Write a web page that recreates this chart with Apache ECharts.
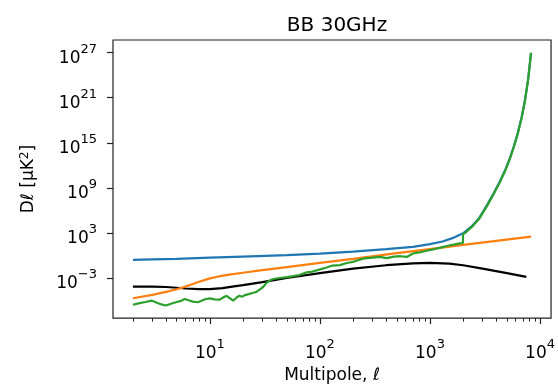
<!DOCTYPE html>
<html>
<head>
<meta charset="utf-8">
<script src="https://cdn.jsdelivr.net/npm/echarts@6/dist/echarts.min.js"></script>
<style>html,body{margin:0;padding:0;background:#fff}#c{width:558px;height:389px}</style>
</head>
<body>
<div id="c"></div>
<script>
// Multipole values (ell) and D_ell [muK^2]
const ellBlue = [2,3,5,10,20,50,100,200,400,700,1000,1300,1600,2000,2400,2800,3300,3800,4300,4800,5300,5800,6300,6800,7300,7800,8280];
const dlBlue = [2.5e-1,3.0e-1,3.5e-1,5.0e-1,7.1e-1,1.1,1.7,3.2,7.1,1.4e1,3.2e1,7.1e1,2.0e2,8.9e2,7.9e3,1.0e5,5.0e6,2.0e8,6.3e9,2.0e11,7.9e12,4.0e14,2.5e16,2.5e18,5.0e20,3.2e23,8.9e26];

const ellBlack = [2,3,4,5,6,8,10,13,16,20,30,50,100,200,400,700,1000,1500,2000,3000,5000,7500];
const dlBlack = [7.1e-5,7.1e-5,6.3e-5,5.0e-5,4.0e-5,3.2e-5,3.2e-5,4.5e-5,7.1e-5,1.1e-4,2.8e-4,1.0e-3,4.5e-3,1.8e-2,5.0e-2,8.9e-2,1.0e-1,8.3e-2,5.0e-2,1.8e-2,4.5e-3,1.4e-3];

const ellOrange = [2,3,4,5,6,7,8,10,12,15,20,30,50,100,200,500,1000,2000,4000,8280];
const dlOrange = [2.0e-6,5.6e-6,1.4e-5,3.2e-5,7.1e-5,1.6e-4,3.2e-4,8.9e-4,1.6e-3,2.8e-3,5.0e-3,1.1e-2,2.8e-2,1.0e-1,3.5e-1,2.0,7.1,2.5e1,8.9e1,3.2e2];

const ellGreen = [2.0,2.3,2.6,2.95,3.3,3.7,4.0,4.5,5.0,5.5,5.9,6.5,7.0,7.8,8.5,9.2,10,11,12.3,13.2,14.2,15.2,16.3,17.5,18.5,19.6,20.8,22.5,24.8,26.5,28.5,30.5,32.7,35,37.7,43,49.8,57,65,75.7,85,95,115,130,152,175,200,225,247,300,350,404,470,540,615,700,800,933,1100,1250,1420,1636,1870,1990,2000,2100,2400,2800,3300,3800,4300,4800,5300,5800,6300,6800,7300,7800,8280];
const dlGreen = [2.7e-7,4.5e-7,6.3e-7,9.8e-7,5.0e-7,2.8e-7,2.2e-7,4.0e-7,6.3e-7,8.9e-7,1.6e-6,1.0e-6,7.1e-7,5.9e-7,1.0e-6,1.6e-6,1.9e-6,1.4e-6,1.3e-6,2.5e-6,4.3e-6,2.0e-6,9.8e-7,2.5e-6,4.3e-6,3.2e-6,5.2e-6,7.1e-6,1.1e-5,1.4e-5,3.1e-5,6.3e-5,2.2e-4,4.5e-4,7.4e-4,1.0e-3,1.3e-3,1.8e-3,2.5e-3,5.6e-3,7.1e-3,1.1e-2,2.5e-2,4.5e-2,5.2e-2,1.0e-1,1.4e-1,2.5e-1,3.8e-1,5.0e-1,6.3e-1,4.5e-1,7.1e-1,7.9e-1,6.3e-1,1.8,2.5,4.2,7.1,1.1e1,1.8e1,2.7e1,4.0e1,4.2e1,7.1e2,1.1e3,6.3e3,7.9e4,4.0e6,1.6e8,5.0e9,1.6e11,6.3e12,3.2e14,2.0e16,2.0e18,4.0e20,2.5e23,1.0e27];

// tick labels (powers of ten)
const xTickExps = [1,2,3,4];
const yTickExps = [-3,3,9,15,21,27];
const titleText = 'BB 30GHz';

const FONT = 'DejaVu Sans';
const toPts = (xs, ys) => xs.map((x, i) => [Math.log10(x), Math.log10(ys[i])]);
const xMinor = [];
for (let n = 0; n <= 3; n++) for (let k = 2; k <= 9; k++) xMinor.push(Math.log10(k * Math.pow(10, n)));
const powLabel = v => '{b|10}{s|' + String(v).replace('-', '\u2212') + '}';
const rich = {
  b: {fontFamily: FONT, fontSize: 17, color: '#000', verticalAlign: 'bottom', lineHeight: 24},
  s: {fontFamily: FONT, fontSize: 13, color: '#000', verticalAlign: 'top', lineHeight: 24}
};

const chart = echarts.init(document.getElementById('c'), null, {renderer: 'canvas'});
const lineSeries = (name, xs, ys, color) => ({
  name, type: 'line', data: toPts(xs, ys), showSymbol: false, symbol: 'none',
  lineStyle: {color, width: 2.2}, itemStyle: {color}, animation: false, silent: true,
  xAxisIndex: 0, yAxisIndex: 0
});

chart.setOption({
  animation: false,
  title: {
    text: titleText, left: 332, top: 11, textAlign: 'center',
    textStyle: {fontFamily: FONT, fontSize: 20, fontWeight: 'normal', color: '#000'}
  },
  grid: {left: 113, right: 6, top: 40, bottom: 63, show: true, borderColor: '#222', borderWidth: 1.2, backgroundColor: 'transparent'},
  xAxis: [{
    type: 'value', min: 0.12, max: 4.1, position: 'bottom',
    axisLine: {show: false, onZero: false}, splitLine: {show: false},
    axisTick: {show: true, length: 6, customValues: xTickExps, lineStyle: {color: '#222', width: 1.2}},
    axisLabel: {customValues: xTickExps, margin: 20, formatter: powLabel, rich},
    name: 'Multipole, \u2113', nameLocation: 'middle', nameGap: 41,
    nameTextStyle: {fontFamily: FONT, fontSize: 17, color: '#000'}
  }, {
    type: 'value', min: 0.12, max: 4.1, position: 'bottom', gridIndex: 0,
    axisLine: {show: false, onZero: false}, splitLine: {show: false},
    axisTick: {show: true, length: 3.5, customValues: xMinor, lineStyle: {color: '#222', width: 1}},
    axisLabel: {show: false}
  }],
  yAxis: {
    type: 'value', min: -8.34, max: 28.68,
    axisLine: {show: false, onZero: false}, splitLine: {show: false},
    axisTick: {show: true, length: 6, customValues: yTickExps, lineStyle: {color: '#222', width: 1.2}},
    axisLabel: {customValues: yTickExps, margin: 16, formatter: powLabel, rich, padding: [5, 0, 0, 0]},
    name: 'D\u2113 [\u03bcK{s|2}]', nameLocation: 'middle', nameGap: 74, nameRotate: 90,
    nameTextStyle: {fontFamily: FONT, fontSize: 17, color: '#000', rich: {
      s: {fontFamily: FONT, fontSize: 12, color: '#000', verticalAlign: 'top', lineHeight: 20}
    }}
  },
  series: [
    lineSeries('blue', ellBlue, dlBlue, '#1f77b4'),
    lineSeries('black', ellBlack, dlBlack, '#000000'),
    lineSeries('orange', ellOrange, dlOrange, '#ff7f0e'),
    lineSeries('green', ellGreen, dlGreen, '#2ca02c')
  ]
});
</script>
</body>
</html>
